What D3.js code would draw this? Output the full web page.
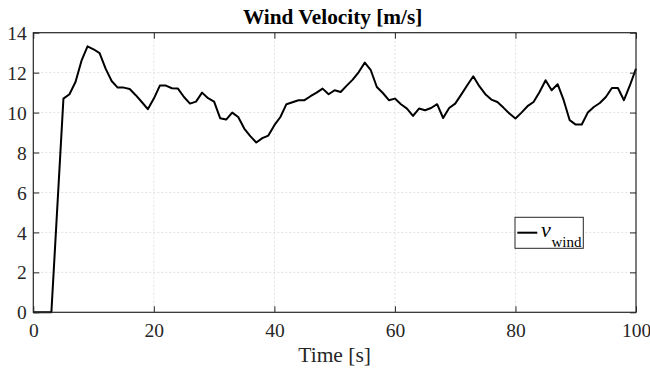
<!DOCTYPE html>
<html>
<head>
<meta charset="utf-8">
<script src="https://cdn.jsdelivr.net/npm/d3@7"></script>
<style>
  html, body { margin: 0; padding: 0; background: #fff; }
  svg { display: block; }
</style>
</head>
<body>
<svg id="chart" width="650" height="369"></svg>
<script>
// ---- data ----
const time = [0, 3, 5, 6, 7, 8, 9, 10, 11, 12, 13, 14, 15, 16, 17, 18, 19, 20,
  21, 22, 23, 24, 25, 26, 27, 28, 29, 30, 31, 32, 33, 34, 35, 36, 37, 38, 39, 40,
  41, 42, 43, 44, 45, 46, 47, 48, 49, 50, 51, 52, 53, 54, 55, 56, 57, 58, 59, 60,
  61, 62, 63, 64, 65, 66, 67, 68, 69, 70, 71, 72, 73, 74, 75, 76, 77, 78, 79, 80,
  81, 82, 83, 84, 85, 86, 87, 88, 89, 90, 91, 92, 93, 94, 95, 96, 97, 98, 99, 100];
const windSpeed = [0, 0, 10.7, 10.92, 11.53, 12.6, 13.32, 13.17, 12.98, 12.2, 11.58, 11.25, 11.25, 11.18, 10.87, 10.53, 10.17, 10.7,
  11.35, 11.35, 11.22, 11.2, 10.78, 10.45, 10.55, 11.0, 10.72, 10.55, 9.72, 9.65, 10.0, 9.78, 9.2, 8.82, 8.5, 8.72, 8.85, 9.37,
  9.78, 10.42, 10.52, 10.62, 10.62, 10.82, 11.0, 11.2, 10.92, 11.12, 11.03, 11.35, 11.65, 12.03, 12.5, 12.12, 11.28, 10.98, 10.62, 10.7,
  10.42, 10.2, 9.83, 10.2, 10.12, 10.23, 10.42, 9.73, 10.23, 10.45, 10.9, 11.37, 11.82, 11.32, 10.92, 10.65, 10.53, 10.25, 9.95, 9.7,
  10.0, 10.32, 10.53, 11.03, 11.62, 11.12, 11.42, 10.62, 9.62, 9.4, 9.4, 10.0, 10.28, 10.48, 10.78, 11.23, 11.23, 10.62, 11.37, 12.2];
const xTicks = [0, 20, 40, 60, 80, 100];
const yTicks = [0, 2, 4, 6, 8, 10, 12, 14];
const titleText = "Wind Velocity [m/s]";
const xLabelText = "Time [s]";
const legendMain = "v";
const legendSub = "wind";

// ---- layout ----
const FONT = '"Liberation Serif", "Times New Roman", serif';
const svg = d3.select("#chart");
const L = 33.3, R = 636, T = 32.7, B = 312.3;
const x = d3.scaleLinear().domain([0, 100]).range([L, R]);
const y = d3.scaleLinear().domain([0, 14]).range([B, T]);
const axisColor = "#262626";
const tickLen = 6;

// grid
const grid = svg.append("g");
grid.selectAll(".gx").data(xTicks.slice(1, -1)).join("line")
  .attr("x1", d => x(d)).attr("x2", d => x(d)).attr("y1", T).attr("y2", B)
  .attr("stroke", "#d9d9d9").attr("stroke-width", 0.8).attr("stroke-dasharray", "2,2");
grid.selectAll(".gy").data(yTicks.slice(1, -1)).join("line")
  .attr("y1", d => y(d)).attr("y2", d => y(d)).attr("x1", L).attr("x2", R)
  .attr("stroke", "#d9d9d9").attr("stroke-width", 0.8).attr("stroke-dasharray", "2,2");

// data line
const line = d3.line().x((d, i) => x(time[i])).y(d => y(d));
svg.append("path").datum(windSpeed)
  .attr("d", line).attr("fill", "none").attr("stroke", "#000")
  .attr("stroke-width", 2).attr("stroke-linejoin", "round");

// axes (inward ticks on all four sides)
const axB = d3.axisBottom(x).tickValues(xTicks).tickSizeInner(-tickLen).tickSizeOuter(0);
const axT = d3.axisTop(x).tickValues(xTicks).tickSizeInner(-tickLen).tickSizeOuter(0).tickFormat("");
const axLft = d3.axisLeft(y).tickValues(yTicks).tickSizeInner(-tickLen).tickSizeOuter(0);
const axRgt = d3.axisRight(y).tickValues(yTicks).tickSizeInner(-tickLen).tickSizeOuter(0).tickFormat("");

function style(g) {
  g.attr("font-family", null).attr("font-size", null);
  g.selectAll("path").remove();
  g.selectAll("line").attr("stroke", axisColor).attr("stroke-width", 1);
  g.selectAll("text").style("font-family", FONT).style("font-size", "19.5px").attr("fill", axisColor);
}
svg.append("g").attr("transform", `translate(0,${B})`).call(axB).call(style)
  .selectAll("text").attr("dy", null).attr("y", 24.3);
svg.append("g").attr("transform", `translate(0,${T})`).call(axT).call(style);
svg.append("g").attr("transform", `translate(${L},0)`).call(axLft).call(style)
  .selectAll("text").attr("x", -6.5).attr("dy", "0.34em");
svg.append("g").attr("transform", `translate(${R},0)`).call(axRgt).call(style);

// box
svg.append("rect").attr("x", L).attr("y", T).attr("width", R - L).attr("height", B - T)
  .attr("fill", "none").attr("stroke", axisColor).attr("stroke-width", 1.2);

// title
svg.append("text").attr("x", (L + R) / 2 - 2).attr("y", 23.5).attr("text-anchor", "middle")
  .style("font-family", FONT).style("font-size", "21.3px").style("font-weight", "bold")
  .attr("fill", "#000").text(titleText);

// x label
svg.append("text").attr("x", (L + R) / 2).attr("y", 362).attr("text-anchor", "middle")
  .style("font-family", FONT).style("font-size", "21.5px").attr("fill", axisColor).text(xLabelText);

// legend
const lg = svg.append("g");
lg.append("rect").attr("x", 515).attr("y", 217.3).attr("width", 68.3).attr("height", 31)
  .attr("fill", "#fff").attr("stroke", axisColor).attr("stroke-width", 1);
lg.append("line").attr("x1", 517.3).attr("x2", 537.3).attr("y1", 232.7).attr("y2", 232.7)
  .attr("stroke", "#000").attr("stroke-width", 2);
const lt = lg.append("text").attr("x", 541).attr("y", 236.7).attr("fill", "#000")
  .style("font-family", FONT);
lt.append("tspan").style("font-size", "22px").style("font-style", "italic").text(legendMain);
lt.append("tspan").attr("x", 551.5).attr("y", 246.7).style("font-size", "15px").text(legendSub);
</script>
</body>
</html>
